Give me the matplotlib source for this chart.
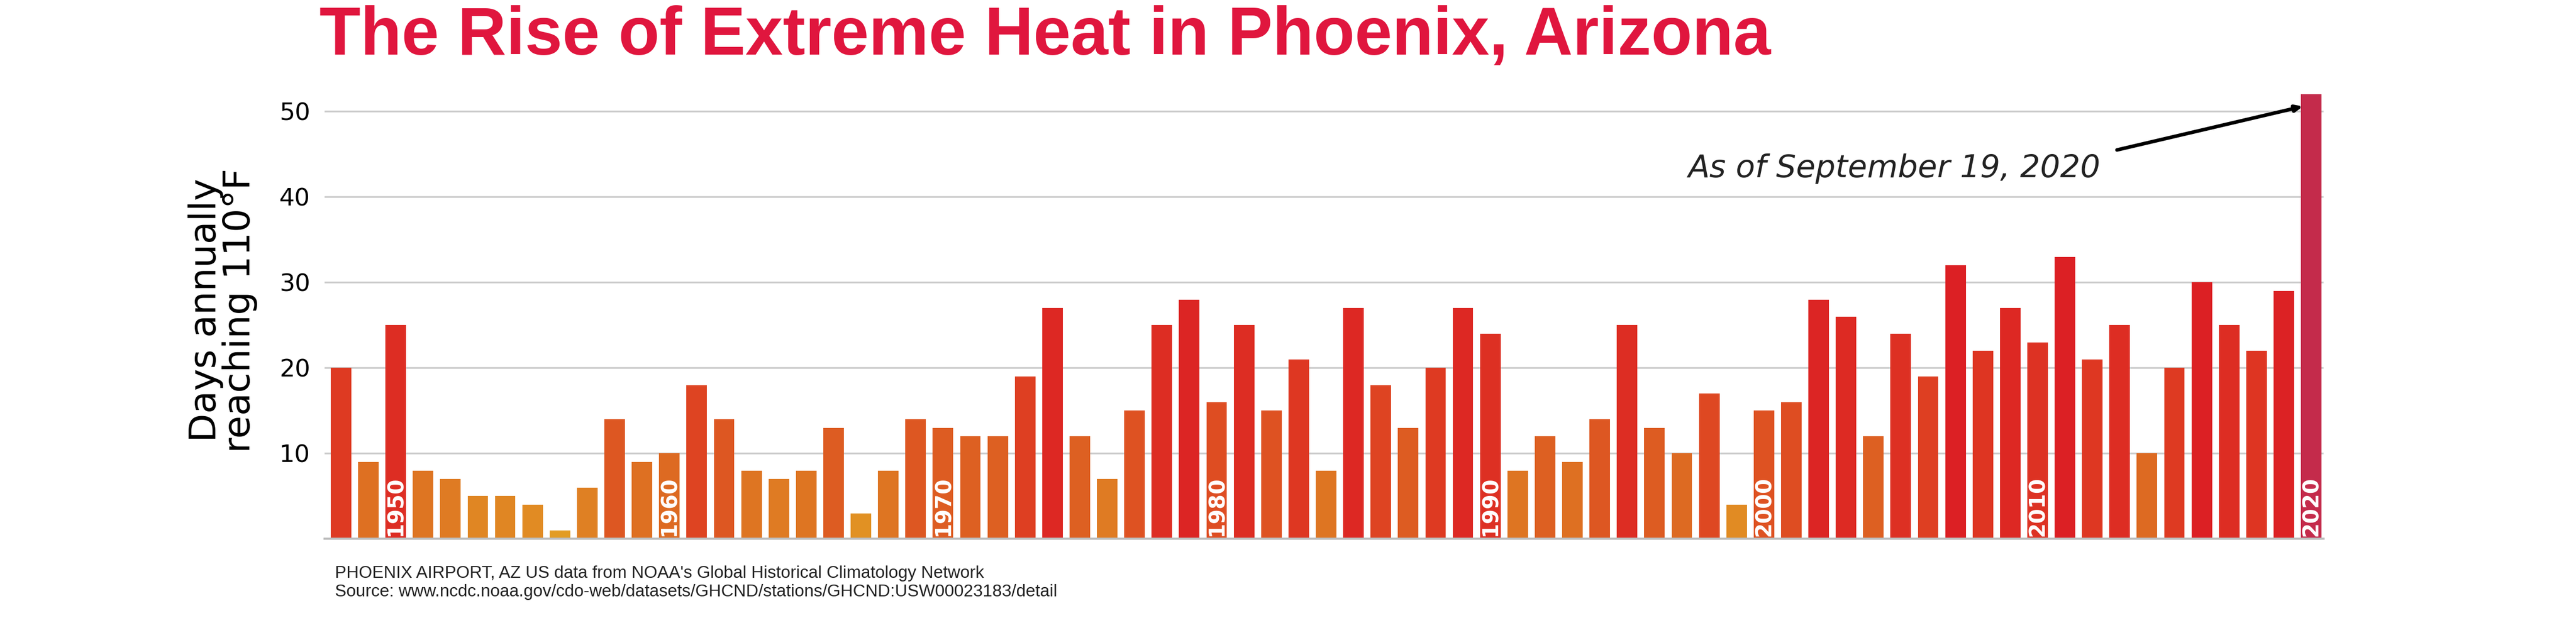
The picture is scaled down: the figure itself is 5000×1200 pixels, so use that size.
import numpy as np
import matplotlib.pyplot as plt
from matplotlib.colors import LinearSegmentedColormap

years = list(range(1948, 2021))
days = [20, 9, 25, 8, 7, 5, 5, 4, 1, 6, 14, 9, 10, 18, 14, 8, 7, 8, 13, 3,
        8, 14, 13, 12, 12, 19, 27, 12, 7, 15, 25, 28, 16, 25, 15, 21, 8, 27,
        18, 13, 20, 27, 24, 8, 12, 9, 14, 25, 13, 10, 17, 4, 15, 16, 28, 26,
        12, 24, 19, 32, 22, 27, 23, 33, 21, 25, 10, 20, 30, 25, 22, 29, 52]
decade_labels = [1950, 1960, 1970, 1980, 1990, 2000, 2010, 2020]

cmap = LinearSegmentedColormap.from_list("heat", ["#E3A124", "#DD6A22", "#DE3A22", "#DC2024"])
colors = [cmap(min(d, 30) / 30) for d in days]
colors[-1] = "#C42B4B"

fig = plt.figure(figsize=(50, 12), dpi=100)
ax = fig.add_axes([0.126, 0.128, 0.776, 0.74])
ax.bar(years, days, width=0.75, color=colors, zorder=2)
ax.set_xlim(1947.4, 2020.45)
ax.set_ylim(0, 53.5)
ax.set_yticks([10, 20, 30, 40, 50])
ax.tick_params(axis='y', length=0, labelsize=34, pad=20)
ax.tick_params(axis='x', bottom=False, labelbottom=False)
ax.grid(axis='y', color='#cccccc', linewidth=2.5, zorder=3)
for s in ['top', 'right', 'left']:
    ax.spines[s].set_visible(False)
ax.spines['bottom'].set_color('#bbbbbb')
ax.spines['bottom'].set_linewidth(3)
ax.set_ylabel("Days annually\nreaching 110°F", fontsize=52, labelpad=30, linespacing=0.95)

for y in decade_labels:
    ax.text(y, 0.3, str(y), rotation=90, ha='center', va='bottom', color='white',
            fontsize=30, fontweight='bold', zorder=4)

ax.text(2012.3, 43.3, "As of September 19, 2020", fontsize=44, style='italic',
        color='#222222', ha='right', va='center')
ax.annotate("", xy=(2019.7, 50.6), xytext=(2012.9, 45.5),
            arrowprops=dict(arrowstyle='-|>,head_length=0.8,head_width=0.35', lw=5, color='black',
                            shrinkA=0, shrinkB=0))

fig.text(0.124, 0.89, "The Rise of Extreme Heat in Phoenix, Arizona", fontsize=94,
         fontweight='bold', color='#E0163E', fontfamily=['Liberation Sans Narrow', 'Liberation Sans'],
         va='bottom')
fig.text(0.13, 0.085, "PHOENIX AIRPORT, AZ US data from NOAA's Global Historical Climatology Network",
         fontsize=24, va='top', color='#222222', fontfamily='Liberation Sans')
fig.text(0.13, 0.055, "Source: www.ncdc.noaa.gov/cdo-web/datasets/GHCND/stations/GHCND:USW00023183/detail",
         fontsize=24, va='top', color='#222222', fontfamily='Liberation Sans')

fig.savefig("out.png", dpi=100)
